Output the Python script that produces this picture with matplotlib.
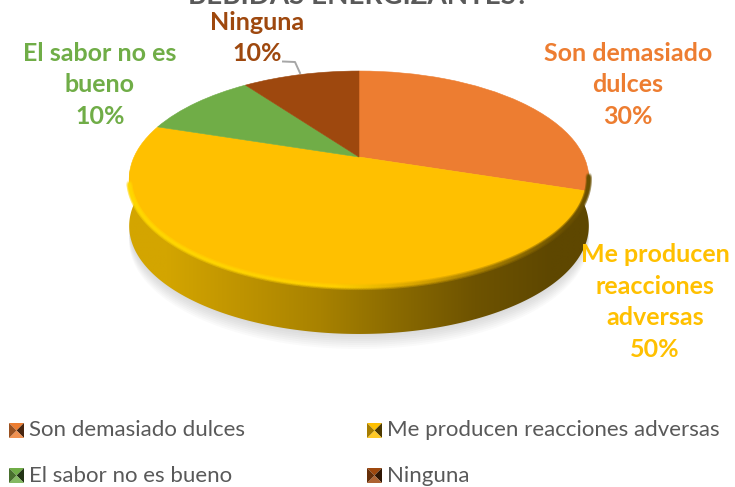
import numpy as np
import matplotlib
matplotlib.use('Agg')
import matplotlib.pyplot as plt
from matplotlib.collections import LineCollection
from matplotlib.colors import to_rgb
from matplotlib.patches import Polygon
from matplotlib.transforms import Transform

categories = ['Son demasiado dulces', 'Me producen reacciones adversas', 'El sabor no es bueno', 'Ninguna']
values = [30, 50, 10, 10]
colors = ['#ED7D31', '#FFC000', '#70AD47', '#9E480E']
title_tail = 'BEBIDAS ENERGIZANTES?'
side_colors = ['#D3A500', '#BE9300', '#A88200', '#8A6A00', '#6E5300', '#5E4700']

# pie geometry in pixels, the tilt puts the apex above the middle of the ellipse
CX, CY = 359, 157
RX, RY = 225, 103.5
TILT = 0.2037
DEPTH = 47


class PieTilt(Transform):
    input_dims = 2
    output_dims = 2

    def transform_non_affine(self, values):
        values = np.asarray(values, dtype=float)
        w = 1 + TILT * values[:, 1]
        return np.column_stack([CX + RX * values[:, 0] / w, CY - RY * values[:, 1] / w])


def rim(a, b, n=200):
    t = np.radians(np.linspace(a, b, n))
    return PieTilt().transform_non_affine(np.column_stack([np.cos(t), np.sin(t)]))


fig = plt.figure(figsize=(7.35, 4.87), dpi=100)
ax = fig.add_axes([0, 0, 1, 1])

wedges, _ = ax.pie(values, colors=colors, startangle=90, counterclock=False, frame=True,
                   wedgeprops={'linewidth': 0.4, 'zorder': 5})
for w, c in zip(wedges, colors):
    w.set_edgecolor(c)
    w.set_transform(PieTilt() + ax.transData)

# soft shadow under the body
low = rim(180, 360)
for i in range(8):
    ax.add_patch(Polygon(low + [0, DEPTH + 1 + i * 2], closed=True, fc='#808080', ec='none', alpha=0.04, zorder=1))

# side of the pie with a left to right gradient
grad = np.array([[to_rgb(c) for c in side_colors]])
outline = np.vstack([low + [0, DEPTH], low[::-1]])
im = ax.imshow(grad, extent=(129, 590, 340, 170), aspect='auto', interpolation='bilinear', zorder=2)
body = Polygon(outline, closed=True, transform=ax.transData, fc='none', ec='none')
ax.add_patch(body)
im.set_clip_path(body)

# bevel between the face and the side, bright on the left and dark on the right
pts = rim(194, 350, 300)
segs = np.stack([pts[:-1], pts[1:]], axis=1)
frac = (segs[:, 0, 0] - 129) / 460
stops = np.array([to_rgb('#FFD800'), to_rgb('#FFD000'), to_rgb('#D9A500'), to_rgb('#6A5000')])
bevel = np.column_stack([np.interp(frac, [0, 0.45, 0.62, 0.95], stops[:, j]) for j in range(3)])
ax.add_collection(LineCollection(segs, colors=bevel, linewidths=4.5, alpha=0.2, zorder=6, capstyle='round'))
ax.add_collection(LineCollection(segs, colors=bevel, linewidths=2.6, alpha=0.4, zorder=6, capstyle='round'))
ax.add_collection(LineCollection(segs, colors=bevel, linewidths=1.2, alpha=0.8, zorder=6, capstyle='round'))

ax.plot([283, 295, 300], [61.5, 62, 73], color='#A6A6A6', lw=1.4, zorder=7)

font = 'Lato'
ax.text(358, -4, title_tail, color='#595959', fontsize=20, fontweight='bold', family=font, ha='center', va='center')
label_kw = dict(fontsize=18, fontweight='bold', family=font, ha='center', va='center', linespacing=1.44, zorder=8)
ax.text(628, 85, 'Son demasiado\ndulces\n30%', color=colors[0], **label_kw)
ax.text(655, 302, 'Me producen\nreacciones\nadversas\n50%', color=colors[1], **label_kw)
ax.text(100, 85, 'El sabor no es\nbueno\n10%', color=colors[2], **label_kw)
ax.text(257, 38, 'Ninguna\n10%', color=colors[3], **label_kw)

# legend, square keys with four shaded facets
key_pos = [(9, 423), (367, 423), (9, 468), (367, 468)]
S = 15
for (x, y), name, c in zip(key_pos, categories, colors):
    base = np.array(to_rgb(c))
    m = (x + S / 2, y + S / 2)
    corners = [(x, y), (x + S, y), (x + S, y + S), (x, y + S)]
    shades = [base, base * 0.3, base * 1.0 + (1 - base) * 0.15, base * 0.65]
    for k, shade in enumerate(shades):
        ax.add_patch(Polygon([corners[k], corners[(k + 1) % 4], m], closed=True, fc=shade, ec='none', zorder=3))
    ax.text(x + 20, y + 7.5, name, color='#595959', fontsize=16, family=font, va='center', ha='left')

ax.set_xlim(0, 735)
ax.set_ylim(487, 0)
ax.set_aspect('auto')
ax.axis('off')
fig.savefig('out.png', dpi=100)
